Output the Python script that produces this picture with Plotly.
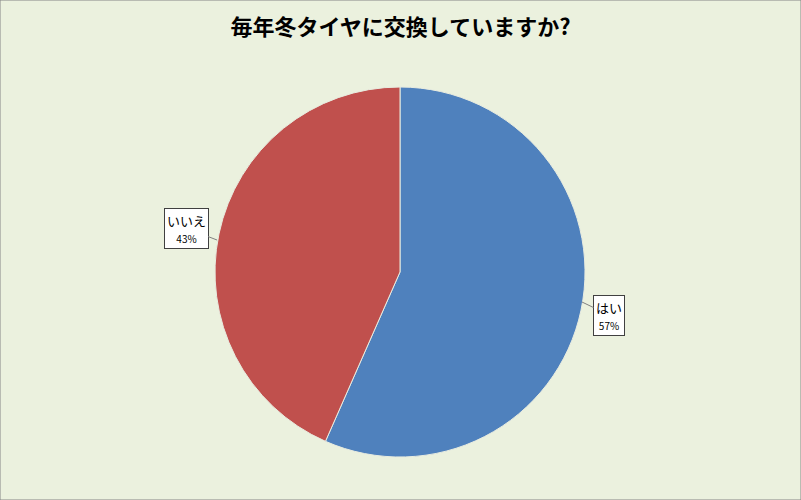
import plotly.graph_objects as go

# data (shares; labels show them rounded)
labels = ["はい", "いいえ"]
values = [56.6, 43.4]
colors = ["#4F81BD", "#C0504D"]
title_text = "毎年冬タイヤに交換していますか?"

W, H = 801, 500
font_jp = "Noto Sans CJK JP"

fig = go.Figure()

fig.add_trace(go.Pie(
    labels=labels,
    values=values,
    sort=False,
    direction="clockwise",
    rotation=0,
    marker=dict(colors=colors, line=dict(color="#E8ECE0", width=1)),
    textinfo="none",
    hoverinfo="label+percent",
    showlegend=False,
    domain=dict(x=[215 / W, 585 / W], y=[1 - 457 / H, 1 - 87 / H]),
))

# callout labels (head point on the pie edge, box offset in px)
callouts = [
    # (label index, head x, head y, ax, ay)
    (0, 582, 302, 27, 13),
    (1, 217, 240, -31, -12),
]
total = sum(values)
for i, hx, hy, ax, ay in callouts:
    pct = round(values[i] / total * 100)
    fig.add_annotation(
        x=hx / W, y=1 - hy / H, xref="paper", yref="paper",
        text=f"{labels[i]}<br><span style='font-size:10px'>{pct}%</span>",
        showarrow=True, arrowhead=0, arrowwidth=1, arrowcolor="#808080",
        ax=ax, ay=ay, standoff=0,
        font=dict(family=font_jp, size=13, color="black"),
        bgcolor="white", bordercolor="#404040", borderwidth=1, borderpad=2,
        align="center",
    )

# outer frame
fig.add_shape(type="rect", xref="paper", yref="paper", x0=0, y0=0, x1=1, y1=1,
              line=dict(color="#868686", width=1))

fig.update_layout(
    width=W, height=H,
    margin=dict(l=0, r=0, t=0, b=0),
    paper_bgcolor="#EBF1DE",
    plot_bgcolor="#EBF1DE",
    title=dict(text=f"<b>{title_text}</b>", x=0.5, xanchor="center",
               y=1 - 27 / H, yanchor="middle",
               font=dict(family=font_jp, size=22, color="black")),
)

# drop the page's default body margin so the chart sits at (0, 0)
fig.write_html("out.html", config={"displayModeBar": False},
               post_script="document.body.style.margin='0';")
